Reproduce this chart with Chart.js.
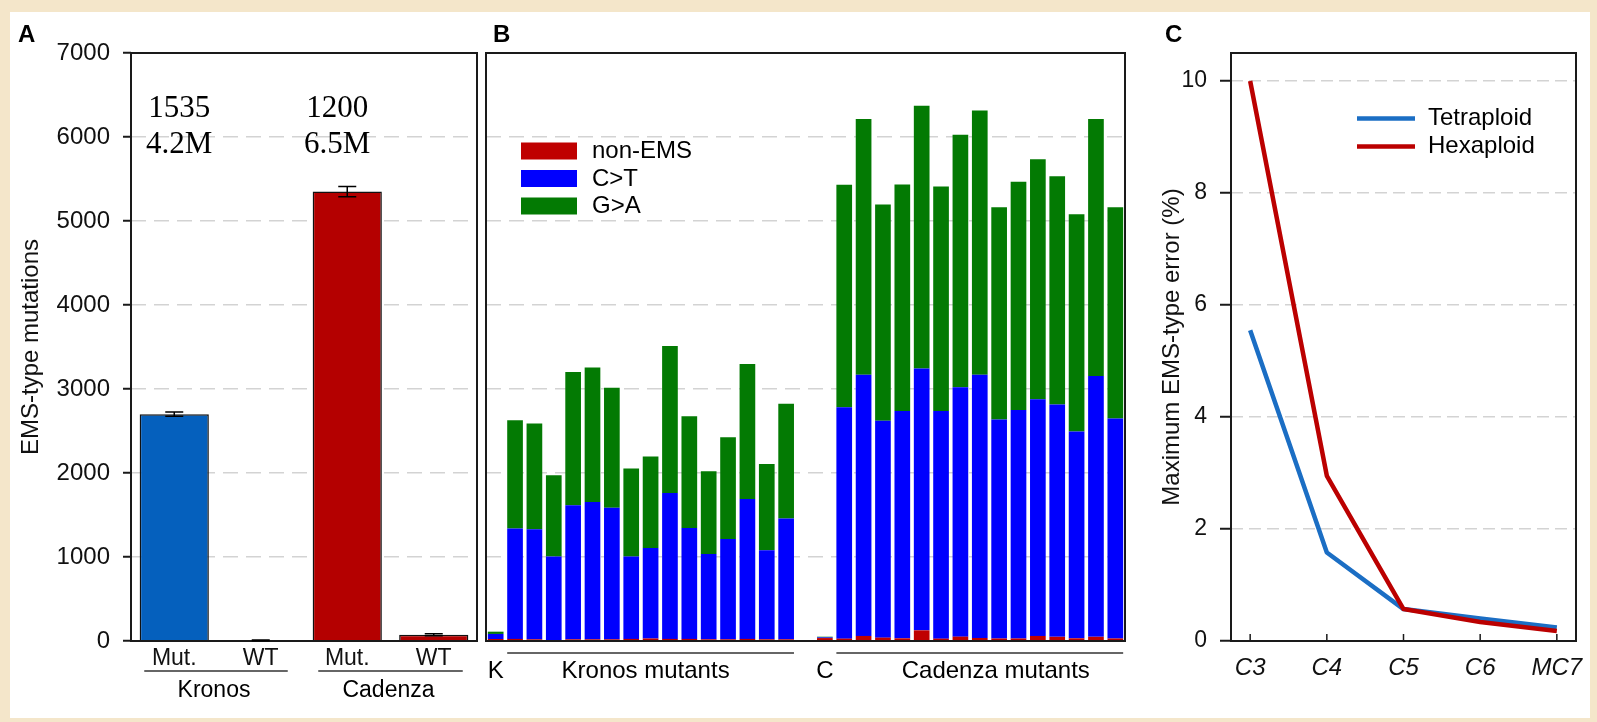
<!DOCTYPE html>
<html>
<head>
<meta charset="utf-8">
<script src="https://cdn.jsdelivr.net/npm/chart.js@4"></script>
<style>
  html, body { margin: 0; padding: 0; }
  body { width: 1597px; height: 722px; background: #f4e6ca; position: relative; overflow: hidden;
         font-family: "Liberation Sans", Arial, sans-serif; }
  #sheet { position: absolute; left: 10px; top: 12px; width: 1580px; height: 706px; background: #fff; }
  canvas { position: absolute; top: 0; }
  .tag { position: absolute; top: 22px; font-weight: bold; font-size: 24px; line-height: 24px; color: #000; }
</style>
</head>
<body>
<div id="sheet"></div>
<canvas id="chartA" width="480" height="722" style="left:0px"></canvas>
<canvas id="chartB" width="650" height="722" style="left:480px"></canvas>
<canvas id="chartC" width="467" height="722" style="left:1130px"></canvas>
<div class="tag" style="left:18px">A</div>
<div class="tag" style="left:493px">B</div>
<div class="tag" style="left:1165px">C</div>
<script>
// ---- panel A: mean EMS-type mutations per line
const groupsA = ['Mut.', 'WT', 'Mut.', 'WT'];
const cultivarsA = ['Kronos', 'Cadenza'];
const emsCountsA = [2700, 8, 5350, 75];
const emsErrorsA = [25, 4, 60, 12];
const linesA = ['1535', '1200'];
const totalsA = ['4.2M', '6.5M'];

// ---- panel B: per-line mutation classes (K = Kronos WT, C = Cadenza WT)
const kronosNonEms = [25, 20, 10, 20, 20, 20, 25, 30, 25, 25, 20, 20, 25, 20, 20];
const kronosCT = [1315, 1310, 995, 1597, 1634, 1565, 980, 1076, 1736, 1321, 1017, 1193, 1666, 1060, 1437];
const kronosGA = [1288, 1260, 968, 1585, 1601, 1431, 1048, 1091, 1750, 1330, 984, 1213, 1607, 1026, 1367];
const cadenzaNonEms = [28, 60, 40, 32, 127, 28, 52, 36, 30, 30, 60, 50, 32, 50, 30];
const cadenzaCT = [2754, 3110, 2582, 2707, 3118, 2711, 2969, 3134, 2608, 2720, 2818, 2764, 2463, 3104, 2619];
const cadenzaGA = [2649, 3043, 2575, 2697, 3127, 2671, 3006, 3144, 2527, 2718, 2856, 2718, 2585, 3059, 2516];
const kronosWT = [24, 60, 27];   // non-EMS, C>T, G>A
const cadenzaWT = [35, 8, 8];

// ---- panel C: max EMS-type error by coverage
const stagesC = ['C3', 'C4', 'C5', 'C6', 'MC7'];
const tetraploidC = [5.55, 1.58, 0.57, 0.40, 0.24];
const hexaploidC = [10.0, 2.95, 0.57, 0.34, 0.18];

const kronosNames = kronosCT.map((_, i) => 'Kronos ' + (i + 1));
const cadenzaNames = cadenzaCT.map((_, i) => 'Cadenza ' + (i + 1));
const lanesB = ['K'].concat(kronosNames, [''], ['C'], cadenzaNames);
const nonEmsB = [kronosWT[0]].concat(kronosNonEms, [null], [cadenzaWT[0]], cadenzaNonEms);
const ctB = [kronosWT[1]].concat(kronosCT, [null], [cadenzaWT[1]], cadenzaCT);
const gaB = [kronosWT[2]].concat(kronosGA, [null], [cadenzaWT[2]], cadenzaGA);

Chart.defaults.font.family = '"Liberation Sans", Arial, Helvetica, sans-serif';
Chart.defaults.color = '#111';
Chart.defaults.animation = false;
Chart.defaults.plugins.legend.display = false;
Chart.defaults.plugins.tooltip.enabled = false;

const ink = '#1a1a1a';

const frame = {
  id: 'frame',
  afterDraw(chart) {
    const {ctx, chartArea: a} = chart;
    ctx.save();
    ctx.strokeStyle = ink;
    ctx.lineWidth = 2;
    ctx.strokeRect(a.left, a.top, a.right - a.left, a.bottom - a.top);
    ctx.restore();
  }
};

function gridColor(top) {
  return c => (c.tick && (c.tick.value === 0 || c.tick.value === top)) ? 'rgba(0,0,0,0)' : '#d3d3d3';
}

function underline(ctx, x1, x2, y) {
  ctx.beginPath();
  ctx.moveTo(x1, y);
  ctx.lineTo(x2, y);
  ctx.stroke();
}

const panelAExtras = {
  id: 'panelAExtras',
  afterDraw(chart) {
    const {ctx, chartArea: a, scales: {x, y}} = chart;
    ctx.save();
    // error bars
    ctx.strokeStyle = '#000';
    ctx.lineWidth = 1.5;
    emsCountsA.forEach((v, i) => {
      const cx = x.getPixelForValue(i);
      const lo = y.getPixelForValue(v - emsErrorsA[i]);
      const hi = y.getPixelForValue(v + emsErrorsA[i]);
      ctx.beginPath();
      ctx.moveTo(cx, lo); ctx.lineTo(cx, hi);
      ctx.moveTo(cx - 9, lo); ctx.lineTo(cx + 9, lo);
      ctx.moveTo(cx - 9, hi); ctx.lineTo(cx + 9, hi);
      ctx.stroke();
    });
    // line counts and mutation totals
    ctx.fillStyle = '#000';
    ctx.font = '31px "Liberation Serif", "Times New Roman", serif';
    ctx.textAlign = 'center';
    ctx.textBaseline = 'alphabetic';
    const textX = [x.getPixelForValue(0) + 5, x.getPixelForValue(2) - 10];
    linesA.forEach((t, i) => {
      ctx.fillText(t, textX[i], a.top + 64);
      ctx.fillText(totalsA[i], textX[i], a.top + 100);
    });
    // cultivar groups
    ctx.strokeStyle = '#333';
    ctx.lineWidth = 1.5;
    ctx.font = '23px "Liberation Sans", Arial, sans-serif';
    const spans = [[x.getPixelForValue(0) - 30, x.getPixelForValue(1) + 27],
                   [x.getPixelForValue(2) - 29, x.getPixelForValue(3) + 29]];
    spans.forEach((s, i) => {
      underline(ctx, s[0], s[1], a.bottom + 30);
      ctx.fillText(cultivarsA[i], (s[0] + s[1]) / 2 - 2, a.bottom + 56);
    });
    ctx.restore();
  }
};

const panelBExtras = {
  id: 'panelBExtras',
  afterDraw(chart) {
    const {ctx, chartArea: a, scales: {x}} = chart;
    const slot = x.getPixelForValue(1) - x.getPixelForValue(0);
    const hb = slot * 0.405;
    ctx.save();
    ctx.fillStyle = '#000';
    ctx.strokeStyle = '#333';
    ctx.lineWidth = 1.5;
    ctx.font = '24px "Liberation Sans", Arial, sans-serif';
    ctx.textAlign = 'center';
    ctx.textBaseline = 'alphabetic';
    const base = a.bottom + 37;
    ctx.fillText('K', x.getPixelForValue(0), base);
    ctx.fillText('C', x.getPixelForValue(17), base);
    const k1 = x.getPixelForValue(1) - hb, k2 = x.getPixelForValue(15) + hb;
    const c1 = x.getPixelForValue(18) - hb, c2 = x.getPixelForValue(32) + hb;
    underline(ctx, k1, k2, a.bottom + 12);
    underline(ctx, c1, c2, a.bottom + 12);
    ctx.fillText('Kronos mutants', (k1 + k2) / 2 - 5, base);
    ctx.fillText('Cadenza mutants', (c1 + c2) / 2 + 16, base);
    // legend
    ctx.textAlign = 'left';
    ctx.textBaseline = 'middle';
    const tops = [89.5, 117, 144.5];
    chart.data.datasets.forEach((ds, i) => {
      ctx.fillStyle = ds.backgroundColor;
      ctx.fillRect(a.left + 35, a.top + tops[i], 56, 17);
      ctx.fillStyle = '#000';
      ctx.fillText(ds.label, a.left + 106, a.top + tops[i] + 9);
    });
    ctx.restore();
  }
};

const panelCExtras = {
  id: 'panelCExtras',
  afterDraw(chart) {
    const {ctx, chartArea: a, scales: {x}} = chart;
    ctx.save();
    ctx.strokeStyle = ink;
    ctx.lineWidth = 1.5;
    x.ticks.forEach(t => {
      const px = x.getPixelForValue(t.value);
      ctx.beginPath();
      ctx.moveTo(px, a.bottom);
      ctx.lineTo(px, a.bottom - 7);
      ctx.stroke();
    });
    // legend
    ctx.font = '24px "Liberation Sans", Arial, sans-serif';
    ctx.textAlign = 'left';
    ctx.textBaseline = 'middle';
    const rows = [65.6, 93.6];
    chart.data.datasets.forEach((ds, i) => {
      ctx.strokeStyle = ds.borderColor;
      ctx.lineWidth = 4.5;
      ctx.beginPath();
      ctx.moveTo(a.left + 126, a.top + rows[i]);
      ctx.lineTo(a.left + 184, a.top + rows[i]);
      ctx.stroke();
      ctx.fillStyle = '#000';
      ctx.fillText(ds.label, a.left + 197, a.top + rows[i]);
    });
    ctx.restore();
  }
};

new Chart(document.getElementById('chartA'), {
  type: 'bar',
  data: {
    labels: groupsA,
    datasets: [{
      data: emsCountsA,
      backgroundColor: ['#0560bd', '#0560bd', '#b40000', '#b40000'],
      borderColor: '#111',
      borderWidth: 1.5,
      barPercentage: 0.8,
      categoryPercentage: 1
    }]
  },
  options: {
    responsive: false,
    layout: {padding: {top: 53, right: 3, left: 0, bottom: 0}},
    scales: {
      x: {
        grid: {display: false, drawTicks: false},
        border: {display: false},
        ticks: {font: {size: 23, lineHeight: 1.2}, padding: 3.5, color: '#111'},
        afterFit: s => { s.height = 81; }
      },
      y: {
        min: 0, max: 7000,
        ticks: {stepSize: 1000, font: {size: 24}, padding: 13, color: '#111', callback: v => String(v)},
        grid: {color: gridColor(7000), lineWidth: 1.5, tickColor: ink, tickLength: 8, tickWidth: 2},
        border: {display: false, dash: [15, 8]},
        title: {display: true, text: 'EMS-type mutations', font: {size: 24}, color: '#111',
                padding: {top: 16.6, bottom: 0}},
        afterFit: s => { s.width = 131; }
      }
    }
  },
  plugins: [frame, panelAExtras]
});

new Chart(document.getElementById('chartB'), {
  type: 'bar',
  data: {
    labels: lanesB,
    datasets: [
      {label: 'non-EMS', data: nonEmsB, backgroundColor: '#bf0000'},
      {label: 'C>T', data: ctB, backgroundColor: '#0000fe'},
      {label: 'G>A', data: gaB, backgroundColor: '#037a03'}
    ]
  },
  options: {
    responsive: false,
    datasets: {bar: {barPercentage: 0.81, categoryPercentage: 1, borderWidth: 0}},
    layout: {padding: {top: 53, right: 5, left: 0, bottom: 0}},
    scales: {
      x: {
        stacked: true,
        ticks: {display: false},
        grid: {display: false, drawTicks: false},
        border: {display: false},
        afterFit: s => { s.height = 81; }
      },
      y: {
        stacked: true,
        min: 0, max: 7000,
        ticks: {display: false, stepSize: 1000},
        grid: {color: gridColor(7000), lineWidth: 1.5, drawTicks: false},
        border: {display: false, dash: [15, 8]},
        afterFit: s => { s.width = 6; }
      }
    }
  },
  plugins: [frame, panelBExtras]
});

new Chart(document.getElementById('chartC'), {
  type: 'line',
  data: {
    datasets: [
      {label: 'Tetraploid', data: stagesC.map((s, i) => ({x: i, y: tetraploidC[i]})),
       borderColor: '#1b6ec4', order: 1},
      {label: 'Hexaploid', data: stagesC.map((s, i) => ({x: i, y: hexaploidC[i]})),
       borderColor: '#bb0000', order: 0}
    ]
  },
  options: {
    responsive: false,
    elements: {line: {borderWidth: 4.5, tension: 0, borderJoinStyle: 'round'}, point: {radius: 0}},
    layout: {padding: {top: 53, right: 21, left: 0, bottom: 0}},
    scales: {
      x: {
        type: 'linear', min: -0.25, max: 4.25,
        ticks: {stepSize: 1, includeBounds: false, autoSkip: false, maxRotation: 0,
                callback: v => stagesC[v] ?? '',
                font: {size: 24, style: 'italic', lineHeight: 1.2}, padding: 12.6, color: '#111'},
        grid: {display: false, drawTicks: false},
        border: {display: false},
        afterFit: s => { s.height = 81; }
      },
      y: {
        min: 0, max: 10.5,
        ticks: {stepSize: 2, includeBounds: false, font: {size: 23}, padding: 13, color: '#111'},
        grid: {color: gridColor(null), lineWidth: 1.5, tickColor: ink, tickLength: 11, tickWidth: 2},
        border: {display: false, dash: [12, 6]},
        title: {display: true, text: 'Maximum EMS-type error (%)', font: {size: 24}, color: '#111',
                padding: {top: 27.6, bottom: 0}},
        afterFit: s => { s.width = 101; }
      }
    }
  },
  plugins: [frame, panelCExtras]
});
</script>
</body>
</html>
